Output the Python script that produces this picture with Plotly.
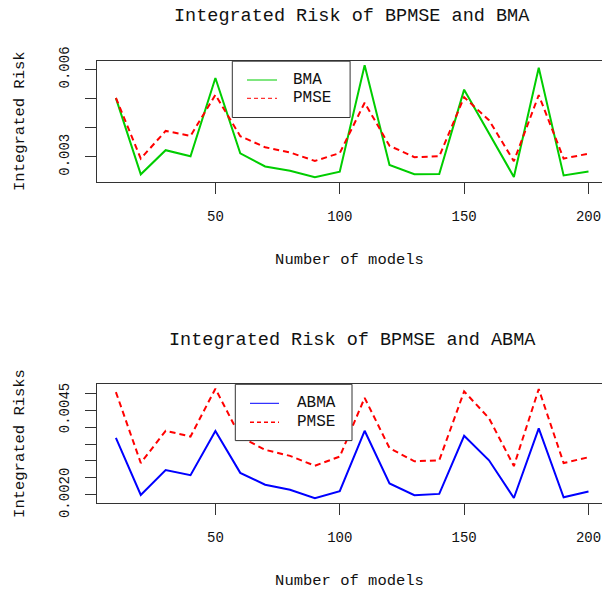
import plotly.graph_objects as go

# ---- data ----
models = [10, 20, 30, 40, 50, 60, 70, 80, 90, 100,
          110, 120, 130, 140, 150, 160, 170, 180, 190, 200]
bma = [0.00502, 0.00240, 0.00323, 0.00302, 0.00571, 0.00312, 0.00267, 0.00252, 0.00230, 0.00249,
       0.00615, 0.00272, 0.00240, 0.00241, 0.00531, 0.00379, 0.00231, 0.00606, 0.00236, 0.00250]
abma = [0.00368, 0.00200, 0.00273, 0.00258, 0.00388, 0.00265, 0.00230, 0.00215, 0.00190, 0.00211,
        0.00389, 0.00234, 0.00199, 0.00203, 0.00374, 0.00302, 0.00191, 0.00396, 0.00193, 0.00210]
pmse = [0.00503, 0.00294, 0.00389, 0.00372, 0.00513, 0.00371, 0.00333, 0.00315, 0.00286, 0.00313,
        0.00486, 0.00338, 0.00299, 0.00302, 0.00505, 0.00426, 0.00285, 0.00512, 0.00294, 0.00311]

x_ticks = [50, 100, 150, 200]
y1_ticks = [0.003, 0.004, 0.005, 0.006]
y1_text = ["0.003", "", "", "0.006"]
y2_ticks = [0.0020, 0.0025, 0.0030, 0.0035, 0.0040, 0.0045, 0.0050]
y2_text = ["0.0020", "", "", "", "", "0.0045", ""]

title1 = "Integrated Risk of BPMSE and BMA"
title2 = "Integrated Risk of BPMSE and ABMA"
xlab = "Number of models"
ylab1 = "Integrated Risk"
ylab2 = "Integrated Risks"

GREEN = "#00CD00"
RED = "#FF0000"
BLUE = "#0000FF"
AXC = "#333333"
TXT = "#111111"
MONO = "Liberation Mono, DejaVu Sans Mono, monospace"

W, H = 602, 596


def rrange(vals):
    lo, hi = min(vals), max(vals)
    p = 0.04 * (hi - lo)
    return lo - p, hi + p


def py(y):
    return 1 - y / H


def px(x):
    return x / W


# plot region in pixels (R-style, right edge falls just outside the window)
LEFT, RIGHT_R = 97.0, 607.4
xlo, xhi = rrange(models)
x_right = xlo + (W - LEFT) / (RIGHT_R - LEFT) * (xhi - xlo)

TOP1, BOT1 = 60.7, 181.7
TOP2, BOT2 = 384.3, 502.7

fig = go.Figure()
fig.add_trace(go.Scatter(x=models, y=bma, mode="lines", name="BMA",
                         line=dict(color=GREEN, width=2), xaxis="x", yaxis="y"))
fig.add_trace(go.Scatter(x=models, y=pmse, mode="lines", name="PMSE",
                         line=dict(color=RED, width=2, dash="6px,4px"), xaxis="x", yaxis="y"))
fig.add_trace(go.Scatter(x=models, y=abma, mode="lines", name="ABMA",
                         line=dict(color=BLUE, width=2), xaxis="x2", yaxis="y2"))
fig.add_trace(go.Scatter(x=models, y=pmse, mode="lines", name="PMSE",
                         line=dict(color=RED, width=2, dash="6px,4px"), xaxis="x2", yaxis="y2"))

xcommon = dict(range=[xlo, x_right], tickvals=x_ticks, ticks="outside", ticklen=11,
               tickcolor=AXC, tickwidth=1, showline=True, linecolor=AXC, linewidth=1,
               mirror=True, showgrid=False, zeroline=False, automargin=False,
               tickfont=dict(family=MONO, size=14, color=TXT), ticklabelstandoff=10,
               title=dict(text=xlab, font=dict(family=MONO, size=15.5, color=TXT), standoff=29))
ycommon = dict(ticks="outside", ticklen=11, tickcolor=AXC, tickwidth=1, showline=True,
               linecolor=AXC, linewidth=1, mirror=False, showgrid=False, zeroline=False,
               automargin=False, tickangle=-90,
               tickfont=dict(family=MONO, size=14, color=TXT), ticklabelstandoff=10)

y1lo, y1hi = rrange(bma + pmse)
y2lo, y2hi = rrange(abma + pmse)

fig.update_layout(
    width=W, height=H, template="none",
    margin=dict(l=0, r=0, t=0, b=0),
    paper_bgcolor="white", plot_bgcolor="white", showlegend=False,
    xaxis=dict(domain=[px(LEFT), 1], anchor="y", **xcommon),
    yaxis=dict(domain=[py(BOT1), py(TOP1)], anchor="x", range=[y1lo, y1hi],
               tickvals=y1_ticks, ticktext=y1_text,
               title=dict(text=ylab1, font=dict(family=MONO, size=15.5, color=TXT), standoff=28),
               **ycommon),
    xaxis2=dict(domain=[px(LEFT), 1], anchor="y2", **xcommon),
    yaxis2=dict(domain=[py(BOT2), py(TOP2)], anchor="x2", range=[y2lo, y2hi],
                tickvals=y2_ticks, ticktext=y2_text,
                title=dict(text=ylab2, font=dict(family=MONO, size=15.5, color=TXT), standoff=28),
                **ycommon),
)

# main titles (centered over the plot region)
cx = px((LEFT + RIGHT_R) / 2)
for t, yy in [(title1, 17), (title2, 340)]:
    fig.add_annotation(text=t, x=cx, y=py(yy), xref="paper", yref="paper",
                       showarrow=False, xanchor="center", yanchor="middle",
                       font=dict(family=MONO, size=18.5, color=TXT))

# legends (boxed, R style)
legends = [
    dict(box=(232.3, 61.2, 350.1, 117.5), lx=(247, 277), tx=291,
         items=[("BMA", GREEN, None, 1, 80.0), ("PMSE", RED, "4px,3px", 1, 98.3)]),
    dict(box=(235.3, 384.3, 352.0, 440.6), lx=(250, 279), tx=295,
         items=[("ABMA", BLUE, None, 1, 403.3), ("PMSE", RED, "4px,3px", 1.6, 422.3)]),
]
for lg in legends:
    x0, y0, x1, y1 = lg["box"]
    fig.add_shape(type="rect", xref="paper", yref="paper", x0=px(x0), x1=px(x1),
                  y0=py(y1), y1=py(y0), line=dict(color=AXC, width=1), fillcolor="white")
    for name, col, dash, w, yy in lg["items"]:
        ln = dict(color=col, width=w)
        if dash:
            ln["dash"] = dash
        fig.add_shape(type="line", xref="paper", yref="paper", x0=px(lg["lx"][0]),
                      x1=px(lg["lx"][1]), y0=py(yy), y1=py(yy), line=ln)
        fig.add_annotation(text=name, x=px(lg["tx"]), y=py(yy), xref="paper", yref="paper",
                           showarrow=False, xanchor="left", yanchor="middle",
                           font=dict(family=MONO, size=16, color=TXT))

fig.write_html("out.html", config={"displayModeBar": False},
               post_script="document.body.style.margin='0';document.body.style.overflow='hidden';")
